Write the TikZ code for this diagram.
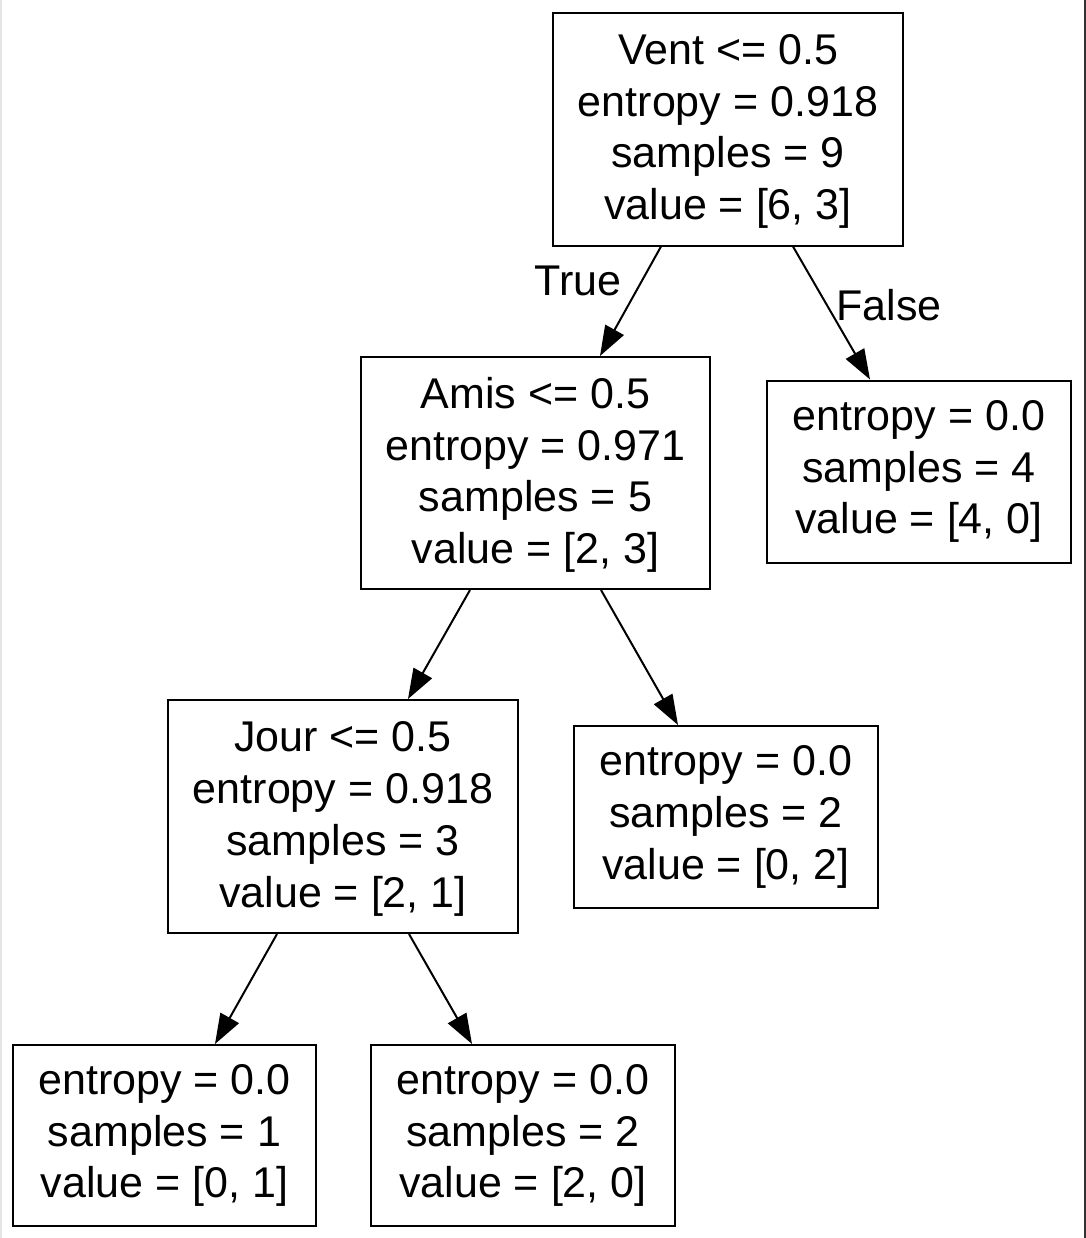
\documentclass[tikz,border=0pt]{standalone}
\usepackage{fontspec}
\setmainfont{Liberation Sans}
\usetikzlibrary{arrows.meta}
\newcommand\toppad{\rule{0pt}{17.5pt}}
\begin{document}
\begin{tikzpicture}[x=0.5pt,y=-0.5pt,
  box/.style={draw=black,line width=1pt,rectangle,align=center,inner sep=0pt,
    font=\fontsize{21.5pt}{25.9pt}\selectfont},
  edge/.style={line width=1pt,-{Triangle[length=15pt,width=10.5pt]}},
  lbl/.style={inner sep=0pt,font=\fontsize{21.5pt}{26pt}\selectfont}]
\useasboundingbox (0,0) rectangle (1086,1238);
\fill[white] (0,0) rectangle (1086,1238);
\fill[black!10] (0,0) rectangle (2,1238);
\fill[black!80] (1083.5,0) rectangle (1086,1238);

\node[box,minimum width=175pt,minimum height=116.5pt] (root) at (728,129)
  {\toppad Vent <= 0.5\\entropy = 0.918\\samples = 9\\value = [6, 3]};
\node[box,minimum width=174.5pt,minimum height=116pt] (amis) at (535.5,473)
  {\toppad Amis <= 0.5\\entropy = 0.971\\samples = 5\\value = [2, 3]};
\node[box,minimum width=152pt,minimum height=91pt] (lfA) at (919,471.5)
  {entropy = 0.0\\samples = 4\\value = [4, 0]};
\node[box,minimum width=175pt,minimum height=116.5pt] (jour) at (343,816.5)
  {\toppad Jour <= 0.5\\entropy = 0.918\\samples = 3\\value = [2, 1]};
\node[box,minimum width=152pt,minimum height=91pt] (lfB) at (726,817)
  {entropy = 0.0\\samples = 2\\value = [0, 2]};
\node[box,minimum width=151.5pt,minimum height=90.5pt] (lfC) at (164.5,1135.5)
  {entropy = 0.0\\samples = 1\\value = [0, 1]};
\node[box,minimum width=152pt,minimum height=90.5pt] (lfD) at (523,1135.5)
  {entropy = 0.0\\samples = 2\\value = [2, 0]};

\node[lbl] (lblT) at (578,281) {True};
\node[lbl] (lblF) at (889,305) {False};

\draw[edge] ([xshift=-33.5pt]root.south) -- ([xshift=32.25pt]amis.north);
\draw[edge] ([xshift=32.5pt]root.south) -- ([xshift=-24.5pt]lfA.north);
\draw[edge] ([xshift=-32.75pt]amis.south) -- ([xshift=32.5pt]jour.north);
\draw[edge] ([xshift=32.75pt]amis.south) -- ([xshift=-24pt]lfB.north);
\draw[edge] ([xshift=-33pt]jour.south) -- ([xshift=25.25pt]lfC.north);
\draw[edge] ([xshift=33pt]jour.south) -- ([xshift=-25.5pt]lfD.north);
\end{tikzpicture}
\end{document}
